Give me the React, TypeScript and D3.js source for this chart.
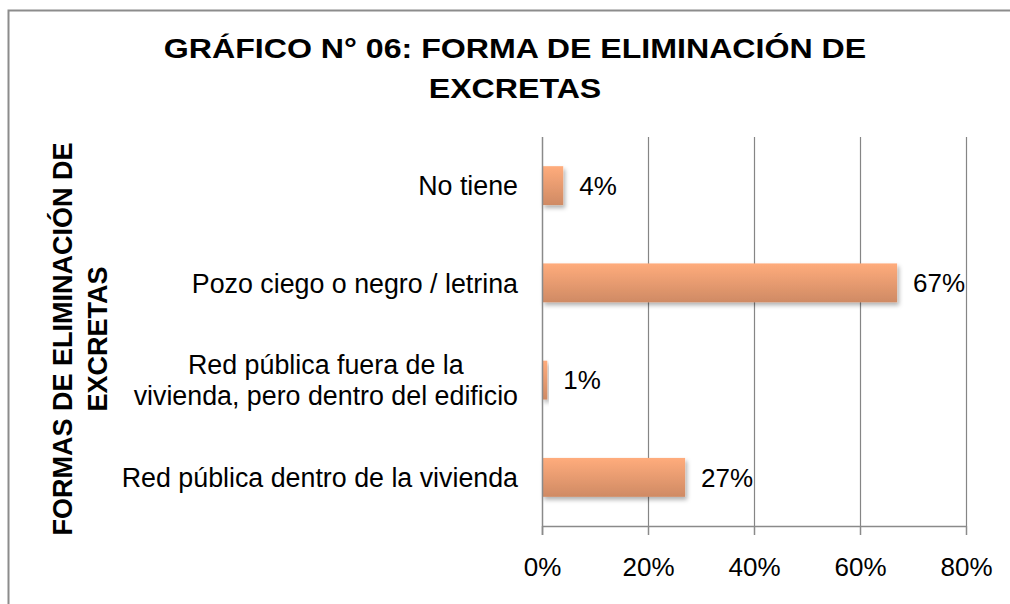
import React, { useRef, useEffect } from 'react';
import * as d3 from 'd3';

// categories top to bottom, with the line breaks used in the picture
const categories = [
  'No tiene',
  'Pozo ciego o negro / letrina',
  'Red pública fuera de la vivienda, pero dentro del edificio',
  'Red pública dentro de la vivienda',
];
const categoryLines = [
  ['No tiene'],
  ['Pozo ciego o negro / letrina'],
  ['Red pública fuera de la', 'vivienda, pero dentro del edificio'],
  ['Red pública dentro de la vivienda'],
];
const values = [0.04, 0.67, 0.01, 0.27];
const xTicks = [0, 0.2, 0.4, 0.6, 0.8];
const titleLines = ['GRÁFICO N° 06: FORMA DE ELIMINACIÓN DE', 'EXCRETAS'];
const yTitleLines = ['FORMAS DE ELIMINACIÓN DE', 'EXCRETAS'];

const FONT = '"Liberation Sans", Arial, sans-serif';

const App = () => {
  const ref = useRef<SVGSVGElement>(null);

  useEffect(() => {
    if (!ref.current) return;
    const svg = d3.select(ref.current);
    svg.selectAll('*').remove();

    const width = 1010;
    const height = 604;
    const left = 542;
    const right = 966;
    const top = 137;
    const bottom = 526;

    const defs = svg.append('defs');
    const grad = defs
      .append('linearGradient')
      .attr('id', 'barGrad')
      .attr('x1', 0)
      .attr('y1', 0)
      .attr('x2', 0)
      .attr('y2', 1);
    grad.append('stop').attr('offset', '0%').attr('stop-color', '#ffac7c');
    grad.append('stop').attr('offset', '100%').attr('stop-color', '#cf8a64');
    const filt = defs
      .append('filter')
      .attr('id', 'shadow')
      .attr('x', '-20%')
      .attr('y', '-20%')
      .attr('width', '150%')
      .attr('height', '160%');
    filt
      .append('feDropShadow')
      .attr('dx', 2)
      .attr('dy', 3)
      .attr('stdDeviation', 2)
      .attr('flood-color', '#000')
      .attr('flood-opacity', 0.3);

    svg.append('rect').attr('width', width).attr('height', height).attr('fill', '#fff');

    // chart border (runs off the right and bottom edges)
    svg
      .append('rect')
      .attr('x', 8.5)
      .attr('y', 10.5)
      .attr('width', 1100)
      .attr('height', 700)
      .attr('fill', 'none')
      .attr('stroke', '#8c8c8c')
      .attr('stroke-width', 2);

    const x = d3.scaleLinear().domain([0, 0.8]).range([left, right]);
    const y = d3
      .scaleBand()
      .domain(categories)
      .range([top, bottom])
      .paddingInner(0.6)
      .paddingOuter(0.3);
    const step = (bottom - top) / categories.length;

    // gridlines
    svg
      .append('g')
      .selectAll('line')
      .data(xTicks.slice(1))
      .enter()
      .append('line')
      .attr('x1', (d) => Math.round(x(d)) + 0.5)
      .attr('x2', (d) => Math.round(x(d)) + 0.5)
      .attr('y1', top)
      .attr('y2', bottom)
      .attr('stroke', '#858585')
      .attr('stroke-width', 1.2);

    // bars
    svg
      .append('g')
      .selectAll('rect')
      .data(values)
      .enter()
      .append('rect')
      .attr('x', x(0))
      .attr('y', (d, i) => y(categories[i]) as number)
      .attr('width', (d) => x(d) - x(0))
      .attr('height', y.bandwidth())
      .attr('fill', 'url(#barGrad)')
      .attr('filter', 'url(#shadow)');

    // axes
    const xAxis = svg
      .append('g')
      .attr('transform', `translate(0,${bottom})`)
      .call(
        d3
          .axisBottom(x)
          .tickValues(xTicks)
          .tickFormat(d3.format('.0%'))
          .tickSizeInner(9)
          .tickSizeOuter(0)
          .tickPadding(22)
      );
    xAxis.select('.domain').attr('stroke', '#8a8a8a').attr('stroke-width', 1.5);
    xAxis.selectAll('.tick line').attr('stroke', '#8a8a8a').attr('stroke-width', 1.5);
    xAxis
      .selectAll('.tick text')
      .attr('font-family', FONT)
      .attr('font-size', 26)
      .attr('fill', '#000')
      .attr('dy', '0.72em');

    svg
      .append('line')
      .attr('x1', left + 0.5)
      .attr('x2', left + 0.5)
      .attr('y1', top)
      .attr('y2', bottom + 9)
      .attr('stroke', '#8a8a8a')
      .attr('stroke-width', 1.5);

    // value labels
    svg
      .append('g')
      .selectAll('text')
      .data(values)
      .enter()
      .append('text')
      .text((d) => `${Math.round(d * 100)}%`)
      .attr('x', (d) => x(d) + 16)
      .attr('y', (d, i) => (y(categories[i]) as number) + y.bandwidth() / 2)
      .attr('dy', '0.36em')
      .attr('font-family', FONT)
      .attr('font-size', 26)
      .attr('fill', '#000');

    // category labels, block right-aligned, lines centred in the block
    const lineH = 31;
    const catG = svg.append('g');
    categoryLines.forEach((lines, i) => {
      const cy = top + step * (i + 0.5);
      const g = catG.append('g');
      const texts = lines.map((ln, j) =>
        g
          .append('text')
          .text(ln)
          .attr('y', cy + (j - (lines.length - 1) / 2) * lineH)
          .attr('dy', '0.36em')
          .attr('font-family', FONT)
          .attr('font-size', 26.8)
          .attr('fill', '#000')
          .attr('text-anchor', 'middle')
      );
      const widths = texts.map((t) => (t.node() as SVGTextElement).getComputedTextLength());
      const maxW = d3.max(widths) as number;
      texts.forEach((t) => t.attr('x', 518 - maxW / 2));
    });

    // title: glyphs are a little wider than tall in the picture
    const titleG = svg.append('g');
    titleLines.forEach((ln, i) => {
      const t = titleG
        .append('text')
        .text(ln)
        .attr('x', 515)
        .attr('y', 58 + i * 40)
        .attr('text-anchor', 'middle')
        .attr('font-family', FONT)
        .attr('font-weight', 'bold')
        .attr('font-size', 27)
        .attr('fill', '#000');
      const w = (t.node() as SVGTextElement).getComputedTextLength();
      t.attr('textLength', w * 1.19).attr('lengthAdjust', 'spacingAndGlyphs');
    });

    // vertical axis title
    svg
      .append('g')
      .selectAll('text')
      .data(yTitleLines)
      .enter()
      .append('text')
      .text((d) => d)
      .attr('transform', (d, i) => `translate(${72 + i * 35},339) rotate(-90)`)
      .attr('text-anchor', 'middle')
      .attr('font-family', FONT)
      .attr('font-weight', 'bold')
      .attr('font-size', 27)
      .attr('fill', '#000');
  }, []);

  return (
    <svg
      ref={ref}
      width={1010}
      height={604}
      style={{ position: 'absolute', left: 0, top: 0, display: 'block' }}
    />
  );
};

export default App;
